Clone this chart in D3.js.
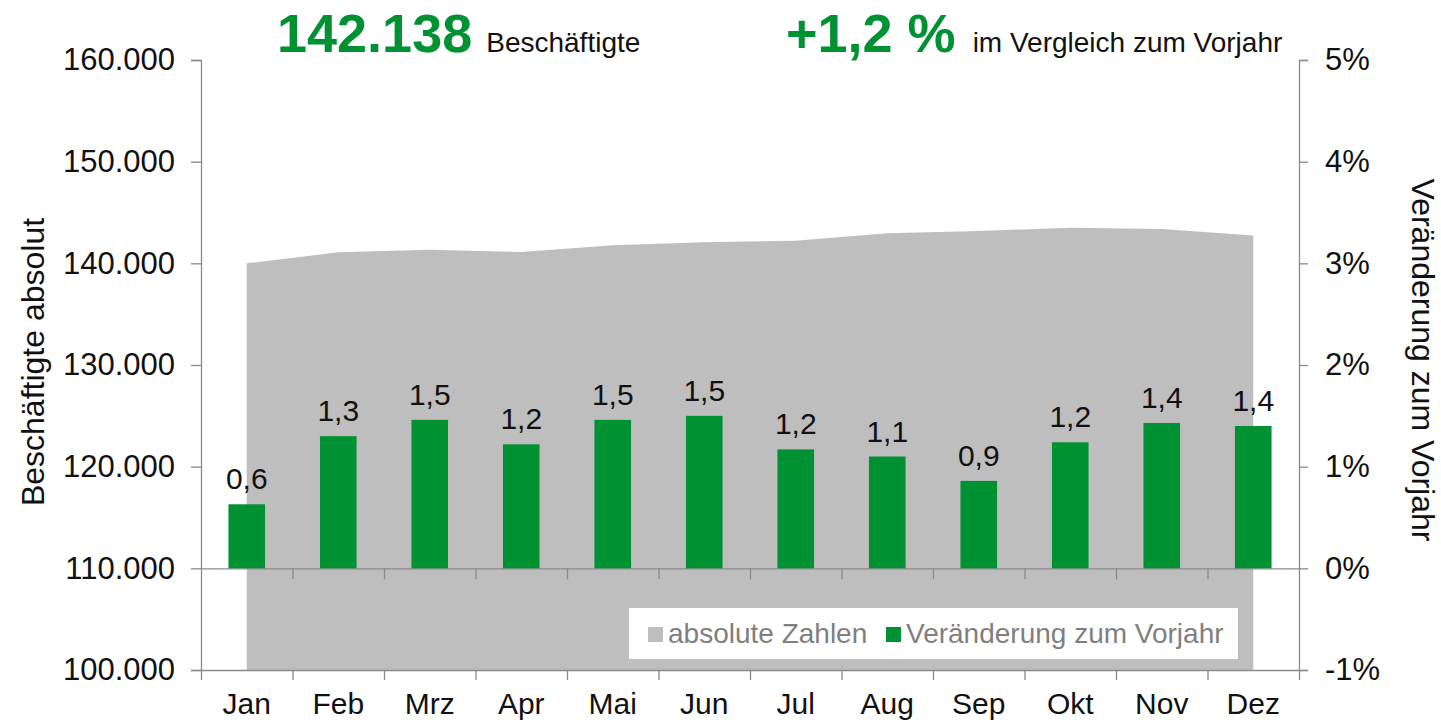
<!DOCTYPE html>
<html>
<head>
<meta charset="utf-8">
<script src="https://cdn.jsdelivr.net/npm/d3@7"></script>
<style>
	body { margin: 0; background: #fff; }
	svg text { font-family: "Liberation Sans", Arial, sans-serif; }
</style>
</head>
<body>
<div id="chart"></div>
<script>
/************ Begin Data ************/
var months = ["Jan", "Feb", "Mrz", "Apr", "Mai", "Jun", "Jul", "Aug", "Sep", "Okt", "Nov", "Dez"];
// Beschäftigte absolut (grey area)
var absoluteValues = [140000, 141080, 141340, 141110, 141770, 142070, 142220, 142950, 143180, 143500, 143370, 142750];
// Veränderung zum Vorjahr in % (green bars)
var changeValues = [0.63, 1.30, 1.46, 1.22, 1.46, 1.50, 1.17, 1.10, 0.86, 1.24, 1.43, 1.40];
var leftTicks = [100000, 110000, 120000, 130000, 140000, 150000, 160000];
var rightTicks = [-1, 0, 1, 2, 3, 4, 5];
var headlineTotal = "142.138",
	headlineTotalText = "Beschäftigte",
	headlineChange = "+1,2 %",
	headlineChangeText = "im Vergleich zum Vorjahr";
var legendLabels = ["absolute Zahlen", "Veränderung zum Vorjahr"];
/************ End Data ************/

/************ Begin Global Variables ************/
var width = 1441,
	height = 724,
	plotLeft = 201,
	plotRight = 1299,
	plotTop = 60,
	plotBottom = 670;

var greyFill = "#bebebe",
	green = "#009133",
	axisColor = "#8a8a8a",
	textColor = "#111";

var de = d3.formatLocale({decimal: ",", thousands: ".", grouping: [3], currency: ["", " €"]});

var x = d3.scaleBand()
	.domain(months)
	.range([plotLeft, plotRight])
	.paddingInner(0.6)
	.paddingOuter(0.3);
var xEdges = d3.scaleLinear()
	.domain([0, months.length])
	.range([plotLeft, plotRight]);
var yLeft = d3.scaleLinear()
	.domain([100000, 160000])
	.range([plotBottom, plotTop]);
var yRight = d3.scaleLinear()
	.domain([-1, 5])
	.range([plotBottom, plotTop]);

var svg = d3.select("#chart").append("svg")
	.attr("width", width)
	.attr("height", height);
/************ End Global Variables ************/

drawArea();
drawZeroAxis();
drawBars();
drawLegend();
drawAxes();
drawHeadline();

/* Description: grey area of the absolute numbers, from Jan center to Dez center */
function drawArea(){
	var area = d3.area()
		.x(function(d, i){ return x(months[i]) + x.bandwidth() / 2; })
		.y0(yLeft(100000))
		.y1(function(d){ return yLeft(d); });
	svg.append("path")
		.datum(absoluteValues)
		.attr("fill", greyFill)
		.attr("d", area);
}

/* Description: secondary category axis crossing at 0% */
function drawZeroAxis(){
	var g = svg.append("g")
		.attr("transform", "translate(0," + yRight(0) + ")")
		.call(d3.axisBottom(xEdges)
			.tickValues(d3.range(1, months.length))
			.tickSizeInner(11)
			.tickSizeOuter(0)
			.tickFormat(""));
	g.selectAll("path, line").attr("stroke", axisColor).attr("stroke-width", 1.3);
}

/* Description: green bars + value labels */
function drawBars(){
	svg.selectAll(".bar")
		.data(changeValues)
		.enter().append("rect")
			.attr("class", "bar")
			.attr("x", function(d, i){ return x(months[i]); })
			.attr("width", x.bandwidth())
			.attr("y", function(d){ return yRight(d); })
			.attr("height", function(d){ return yRight(0) - yRight(d); })
			.attr("fill", green);

	var fmt = de.format(".1f");
	svg.selectAll(".bar-label")
		.data(changeValues)
		.enter().append("text")
			.attr("class", "bar-label")
			.attr("x", function(d, i){ return x(months[i]) + x.bandwidth() / 2; })
			.attr("y", function(d){ return yRight(d) - 15; })
			.attr("text-anchor", "middle")
			.attr("font-size", 30)
			.attr("fill", textColor)
			.text(function(d){ return fmt(d); });
}

/* Description: legend box inside the plot */
function drawLegend(){
	var g = svg.append("g").attr("transform", "translate(629,608)");
	g.append("rect")
		.attr("width", 609)
		.attr("height", 51)
		.attr("fill", "#fff");
	var items = [
		{label: legendLabels[0], color: greyFill, x: 19},
		{label: legendLabels[1], color: green, x: 257}
	];
	var item = g.selectAll(".legend-item")
		.data(items)
		.enter().append("g")
			.attr("class", "legend-item")
			.attr("transform", function(d){ return "translate(" + d.x + ",0)"; });
	item.append("rect")
		.attr("y", 19)
		.attr("width", 15)
		.attr("height", 15)
		.attr("fill", function(d){ return d.color; });
	item.append("text")
		.attr("x", 20)
		.attr("y", 35)
		.attr("font-size", 28)
		.attr("fill", "#7f7f7f")
		.text(function(d){ return d.label; });
}

/* Description: left, right and bottom axes */
function drawAxes(){
	var left = svg.append("g")
		.attr("transform", "translate(" + plotLeft + ",0)")
		.call(d3.axisLeft(yLeft)
			.tickValues(leftTicks)
			.tickSize(10)
			.tickPadding(16)
			.tickFormat(de.format(",")));
	var right = svg.append("g")
		.attr("transform", "translate(" + plotRight + ",0)")
		.call(d3.axisRight(yRight)
			.tickValues(rightTicks)
			.tickSize(9)
			.tickPadding(17)
			.tickFormat(function(d){ return d + "%"; }));
	var bottom = svg.append("g")
		.attr("transform", "translate(0," + plotBottom + ")")
		.call(d3.axisBottom(xEdges)
			.tickValues(d3.range(0, months.length + 1))
			.tickSizeInner(10)
			.tickSizeOuter(0)
			.tickFormat(""));
	var labels = svg.append("g")
		.attr("transform", "translate(0," + plotBottom + ")")
		.call(d3.axisBottom(x).tickSize(0).tickPadding(23));
	labels.select(".domain").remove();

	[left, right, bottom].forEach(function(g){
		g.selectAll("path, line").attr("stroke", axisColor).attr("stroke-width", 1.3);
	});
	[left, right, labels].forEach(function(g){
		g.selectAll("text")
			.attr("font-size", 31)
			.attr("fill", textColor)
			.style("font-family", "'Liberation Sans', Arial, sans-serif");
	});
	labels.selectAll("text").attr("font-size", 30);

	svg.append("text")
		.attr("transform", "translate(44,362) rotate(-90)")
		.attr("text-anchor", "middle")
		.attr("font-size", 32)
		.attr("fill", textColor)
		.text("Beschäftigte absolut");
	svg.append("text")
		.attr("transform", "translate(1412,360) rotate(90)")
		.attr("text-anchor", "middle")
		.attr("font-size", 32)
		.attr("fill", textColor)
		.text("Veränderung zum Vorjahr");
}

/* Description: headline numbers above the plot */
function drawHeadline(){
	var t1 = svg.append("text")
		.attr("x", 277)
		.attr("y", 52)
		.attr("fill", textColor);
	t1.append("tspan")
		.attr("font-size", 54)
		.attr("font-weight", "bold")
		.attr("fill", green)
		.text(headlineTotal);
	t1.append("tspan")
		.attr("dx", 14)
		.attr("font-size", 28)
		.text(headlineTotalText);

	var t2 = svg.append("text")
		.attr("x", 786)
		.attr("y", 52)
		.attr("fill", textColor);
	t2.append("tspan")
		.attr("font-size", 54)
		.attr("font-weight", "bold")
		.attr("fill", green)
		.text(headlineChange);
	t2.append("tspan")
		.attr("dx", 17)
		.attr("font-size", 28)
		.text(headlineChangeText);
}
</script>
</body>
</html>
